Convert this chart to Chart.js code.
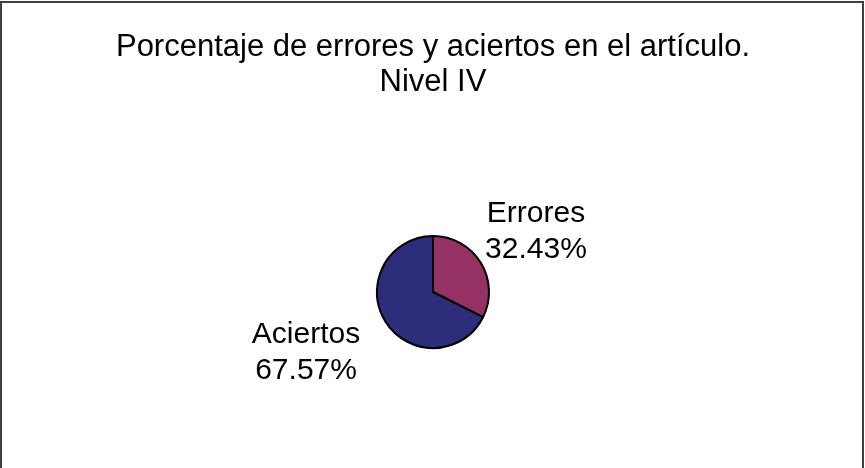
<!DOCTYPE html>
<html>
<head>
<meta charset="utf-8">
<script src="https://cdn.jsdelivr.net/npm/chart.js@4/dist/chart.umd.min.js"></script>
<style>
  html, body { margin: 0; padding: 0; background: #fff; }
  #wrap { position: relative; width: 865px; height: 468px; }
</style>
</head>
<body>
<div id="wrap"><canvas id="pie"></canvas></div>
<script>
// data
const categories = ['Errores', 'Aciertos'];
const percents = [32.43, 67.57];
const sliceColors = ['#963163', '#2d2d7c'];
const titleLines = ['Porcentaje de errores y aciertos en el artículo.', 'Nivel IV'];

const FONT = '"Liberation Sans", Arial, sans-serif';

// frame, title and the outside labels
const decor = {
  id: 'decor',
  beforeDraw(chart) {
    const ctx = chart.ctx;
    ctx.save();
    ctx.fillStyle = '#fff';
    ctx.fillRect(0, 0, chart.width, chart.height);
    ctx.strokeStyle = '#404040';
    ctx.lineWidth = 2;
    ctx.beginPath();
    ctx.moveTo(1, chart.height);
    ctx.lineTo(1, 2);
    ctx.lineTo(chart.width - 2, 2);
    ctx.lineTo(chart.width - 2, chart.height);
    ctx.stroke();
    ctx.restore();
  },
  afterDraw(chart) {
    const ctx = chart.ctx;
    ctx.save();
    ctx.fillStyle = '#000';
    ctx.textAlign = 'center';
    ctx.textBaseline = 'middle';
    ctx.font = '31px ' + FONT;
    titleLines.forEach((t, i) => ctx.fillText(t, 433, 47 + i * 35));

    ctx.font = '30px ' + FONT;
    const meta = chart.getDatasetMeta(0);
    meta.data.forEach((arc, i) => {
      const mid = (arc.startAngle + arc.endAngle) / 2;
      const x = arc.x + Math.cos(mid) * 135 - 12;
      const y = arc.y + Math.sin(mid) * 115;
      ctx.fillText(categories[i], x, y - 18);
      ctx.fillText(percents[i].toFixed(2) + '%', x, y + 18);
    });
    ctx.restore();
  }
};

new Chart(document.getElementById('pie'), {
  type: 'pie',
  data: {
    labels: categories,
    datasets: [{
      data: percents,
      backgroundColor: sliceColors,
      borderColor: '#000',
      borderWidth: 2
    }]
  },
  options: {
    responsive: true,
    maintainAspectRatio: false,
    animation: false,
    layout: { padding: { top: 235, bottom: 119, left: 376, right: 375 } },
    plugins: {
      legend: { display: false },
      title: { display: false },
      tooltip: { enabled: false }
    }
  },
  plugins: [decor]
});
</script>
</body>
</html>
